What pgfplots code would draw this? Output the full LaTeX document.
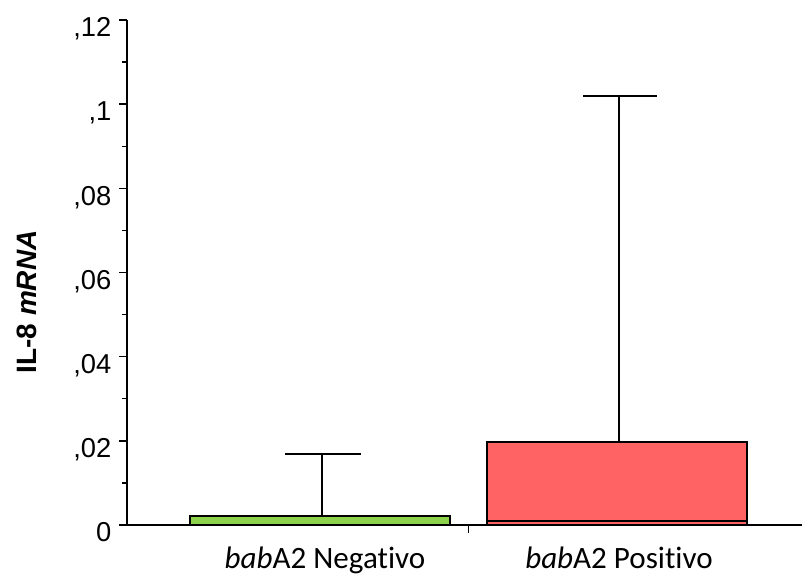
\documentclass[border=0pt]{standalone}
\usepackage{fontspec}
\setmainfont{Liberation Sans}
\newfontfamily\calibri[Ligatures=NoCommon]{Carlito}
\usepackage{pgfplots}
\pgfplotsset{compat=1.18}
\definecolor{barred}{RGB}{255,99,99}
\definecolor{bargreen}{RGB}{140,210,75}
\begin{document}
\begin{tikzpicture}
\useasboundingbox (-95.25pt,-38.25pt) rectangle (506.25pt,393.75pt);
\begin{axis}[
  at={(0,0)}, anchor=south west,
  scale only axis, width=506.25pt, height=378.75pt,
  xmin=-0.6498, xmax=1.6229, ymin=0, ymax=0.12,
  axis lines=left, axis line style={-, line width=1.1pt, black},
  clip=false,
  ytick={0,0.02,0.04,0.06,0.08,0.1,0.12},
  yticklabels={0,{,02},{,04},{,06},{,08},{,1},{,12}},
  minor ytick={0.01,0.03,0.05,0.07,0.09,0.11},
  tick align=outside,
  major tick length=6pt, minor tick length=3.75pt,
  tick style={black, line width=1.1pt},
  xtick={0.5}, xticklabels={},
  yticklabel style={font=\fontsize{20.5}{22}\selectfont, anchor=base east, inner sep=0pt, yshift=-12.5pt, xshift=-5.5pt},
  ylabel={\bfseries IL-8 \textit{mRNA}},
  ylabel style={at={(axis description cs:-0.148,0.4416)}, anchor=center, font=\fontsize{21}{24}\selectfont},
]
\addplot[ybar, bar width=0.875, bar shift=0pt, fill=bargreen, draw=black, line width=1.1pt] coordinates {(0,0.00214)};
\addplot[ybar, bar width=0.875, bar shift=0pt, fill=barred, draw=black, line width=1.1pt] coordinates {(1,0.01972)};
\addplot[black, line width=1.1pt] coordinates {(0.5625,0.00095) (1.4375,0.00095)};
\addplot[black, line width=1.2pt] coordinates {(0.0067,0.00214) (0.0067,0.01687)};
\addplot[black, line width=1.2pt] coordinates {(-0.118,0.01687) (0.138,0.01687)};
\addplot[black, line width=1.2pt] coordinates {(1.0067,0.01972) (1.0067,0.1019)};
\addplot[black, line width=1.2pt] coordinates {(0.8855,0.1019) (1.1347,0.1019)};
\node[anchor=base, font=\calibri\fontsize{23.3}{26}\selectfont, yshift=-32.25pt] at (axis cs:0.0168,0) {\textit{bab}A2 Negativo};
\node[anchor=base, font=\calibri\fontsize{23.3}{26}\selectfont, yshift=-32.25pt] at (axis cs:1.0067,0) {\textit{bab}A2 Positivo};
\end{axis}
\end{tikzpicture}
\end{document}
